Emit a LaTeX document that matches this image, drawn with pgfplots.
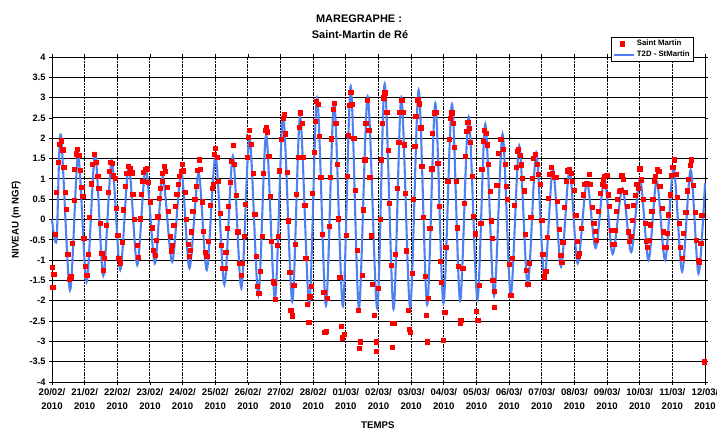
\documentclass[border=0pt]{standalone}
\usepackage{pgfplots}
\pgfplotsset{compat=1.18}
\usepackage{pgfplotstable}
\usepackage{fontspec}
\setmainfont{Liberation Sans}

\definecolor{modelblue}{RGB}{78,128,240}
\definecolor{obsred}{RGB}{255,0,0}

% legend sample for the model curve: a 20bp line
\pgfplotsset{modelleg/.style={legend image code/.code={\draw[##1] (0bp,0bp) -- (20bp,0bp);}}}

% T2D model: successive high and low waters (days since 20/02/2010 00:00, m NGF)
\pgfplotstableread{
t v
0.00 0.00
0.14 -0.50
0.27 2.09
0.55 -1.74
0.80 1.56
1.06 -1.53
1.32 1.60
1.57 -1.38
1.83 1.44
2.09 -1.24
2.35 1.30
2.61 -1.12
2.87 1.26
3.15 -1.08
3.39 1.05
3.68 -1.04
3.96 1.19
4.21 -1.20
4.49 1.14
4.74 -1.24
5.01 1.56
5.28 -1.60
5.54 1.56
5.80 -1.69
6.05 2.02
6.32 -1.86
6.56 2.09
6.83 -1.96
7.08 2.55
7.36 -2.02
7.60 2.52
7.88 -2.08
8.12 3.00
8.39 -2.12
8.64 2.87
8.91 -2.13
9.15 3.28
9.40 -2.18
9.67 3.03
9.96 -2.19
10.19 3.34
10.46 -2.20
10.70 3.00
10.97 -2.17
11.23 3.19
11.49 -2.10
11.74 2.86
11.99 -2.06
12.25 2.84
12.50 -2.00
12.76 2.53
13.03 -1.96
13.27 2.35
13.54 -1.87
13.80 2.10
14.05 -1.86
14.31 1.81
14.57 -1.61
14.83 1.64
15.08 -1.45
15.34 1.25
15.59 -1.16
15.85 1.22
16.10 -1.08
16.38 0.92
16.65 -0.70
16.92 1.01
17.17 -0.85
17.47 0.77
17.74 -0.80
18.01 1.00
18.27 -1.00
18.52 0.96
18.78 -1.00
19.04 1.26
19.30 -1.28
19.56 1.22
19.80 -1.33
20.00 0.90
}\modele

% Tide gauge readings, Saint-Martin de Re
\pgfplotstableread{
t v
0.00 -1.17
0.02 -1.66
0.05 -1.34
0.10 -0.36
0.14 0.67
0.18 1.42
0.22 1.86
0.27 1.94
0.33 1.72
0.36 1.28
0.40 0.67
0.44 0.26
0.48 -0.86
0.53 -1.47
0.57 -1.41
0.61 -0.58
0.68 0.47
0.69 1.23
0.74 1.62
0.78 1.73
0.82 1.58
0.86 1.21
0.91 0.79
0.94 0.58
0.97 -0.46
1.02 -1.14
1.06 -1.37
1.11 -0.86
1.15 0.06
1.20 0.88
1.23 1.37
1.29 1.60
1.35 1.42
1.40 1.06
1.43 0.77
1.47 -0.09
1.52 -0.83
1.57 -1.24
1.60 -0.95
1.66 -0.15
1.71 0.67
1.74 1.19
1.79 1.42
1.84 1.39
1.88 1.09
1.93 1.02
1.96 0.28
2.01 -0.38
2.04 -0.95
2.10 -1.07
2.15 -0.56
2.19 0.24
2.25 0.81
2.29 1.13
2.34 1.31
2.39 1.25
2.45 1.15
2.47 0.63
2.52 0.01
2.60 -0.64
2.63 -0.93
2.70 0.02
2.73 0.63
2.78 0.94
2.80 1.17
2.86 1.23
2.91 1.25
2.94 0.92
3.00 0.44
3.07 -0.20
3.11 -0.75
3.15 -0.87
3.19 -0.50
3.24 0.07
3.29 0.53
3.32 0.77
3.37 0.95
3.38 1.14
3.44 1.31
3.46 1.19
3.52 0.80
3.57 0.20
3.62 -0.42
3.65 -0.77
3.68 -0.64
3.73 -0.15
3.77 0.32
3.82 0.63
3.87 0.86
3.90 1.06
3.96 1.19
3.99 1.37
4.03 1.20
4.08 0.67
4.11 0.00
4.16 -0.61
4.19 -0.91
4.23 -0.75
4.26 -0.30
4.31 0.20
4.37 0.49
4.42 0.81
4.45 1.21
4.50 1.47
4.54 1.23
4.60 0.44
4.64 -0.28
4.69 -0.81
4.74 -0.91
4.79 -0.54
4.85 0.36
4.90 0.77
4.93 0.87
4.96 1.61
5.01 1.76
5.05 1.53
5.10 0.94
5.15 0.16
5.18 -0.64
5.23 -1.19
5.29 -1.20
5.32 -0.81
5.37 -0.21
5.39 0.32
5.46 0.92
5.49 1.43
5.54 1.83
5.59 1.37
5.64 0.59
5.69 -0.30
5.75 -1.08
5.80 -1.37
5.83 -1.08
5.88 -0.42
5.92 0.38
5.98 1.53
6.02 2.02
6.05 2.19
6.10 1.86
6.15 1.14
6.21 0.13
6.26 -0.90
6.29 -1.65
6.33 -1.82
6.38 -1.28
6.43 -0.42
6.48 1.14
6.53 2.19
6.56 2.26
6.60 2.16
6.64 1.56
6.69 0.57
6.72 -0.54
6.77 -1.53
6.80 -1.57
6.84 -1.97
6.89 -0.63
6.94 -0.42
6.97 1.20
7.02 1.97
7.07 2.50
7.10 2.58
7.15 2.11
7.20 1.17
7.23 -0.03
7.28 -1.30
7.31 -2.23
7.36 -2.37
7.40 -1.61
7.46 -0.61
7.48 0.63
7.53 1.53
7.56 2.27
7.61 2.63
7.66 2.38
7.69 1.53
7.74 0.35
7.77 -0.95
7.82 -2.09
7.86 -2.52
7.89 -1.90
7.94 -1.64
7.98 0.65
8.02 1.65
8.07 2.42
8.10 2.91
8.15 2.83
8.18 2.05
8.23 1.04
8.27 -0.36
8.32 -1.78
8.35 -2.78
8.40 -2.75
8.44 -1.94
8.48 -0.17
8.53 1.04
8.56 1.99
8.61 2.71
8.64 2.87
8.69 2.38
8.73 1.37
8.76 0.02
8.81 -1.43
8.86 -2.62
8.89 -2.91
8.94 -2.83
9.00 -0.38
9.04 1.06
9.07 2.07
9.12 2.81
9.15 3.14
9.20 2.83
9.24 2.01
9.29 0.73
9.34 -0.75
9.37 -2.23
9.41 -3.16
9.45 -3.01
9.50 -1.37
9.53 0.24
9.58 1.47
9.61 2.38
9.65 2.93
9.70 2.19
9.73 1.04
9.77 -0.40
9.81 -1.60
9.86 -2.35
9.93 -3.01
9.94 -3.24
9.99 -1.70
10.04 0.00
10.09 1.47
10.12 2.38
10.16 3.00
10.19 3.12
10.25 2.65
10.29 1.70
10.33 0.40
10.38 -1.12
10.41 -2.56
10.43 -3.14
10.47 -2.56
10.52 -0.86
10.57 0.77
10.62 1.91
10.65 2.65
10.71 2.93
10.74 2.65
10.78 1.84
10.81 0.65
10.86 -0.77
10.91 -2.23
10.94 -2.70
10.98 -2.78
11.03 -1.33
11.06 0.49
11.11 1.80
11.14 2.54
11.20 2.95
11.24 2.85
11.29 2.26
11.32 1.31
11.37 0.05
11.42 -1.40
11.45 -2.35
11.49 -3.01
11.52 -1.94
11.57 -0.21
11.63 1.25
11.65 2.13
11.70 2.63
11.75 2.65
11.81 1.38
11.86 0.32
11.90 -1.02
11.93 -1.55
11.98 -2.97
12.03 -2.29
12.06 -0.69
12.12 0.94
12.16 1.97
12.19 2.50
12.24 2.63
12.29 2.38
12.32 1.78
12.37 0.95
12.41 -0.20
12.44 -1.14
12.49 -2.56
12.52 -2.48
12.58 -1.20
12.62 0.40
12.66 1.56
12.70 2.17
12.73 2.40
12.78 2.24
12.82 1.91
12.86 1.06
12.90 0.09
12.95 -0.35
12.98 -2.26
13.04 -2.48
13.08 -1.61
13.13 -0.09
13.16 1.23
13.21 1.93
13.24 2.19
13.29 2.13
13.33 1.84
13.36 1.37
13.41 0.69
13.44 -0.03
13.47 -0.46
13.50 -1.49
13.54 -1.76
13.55 -2.15
13.62 0.84
13.67 1.64
13.72 1.97
13.77 1.97
13.82 1.74
13.87 1.37
13.90 0.81
13.95 0.49
14.00 -1.10
14.05 -1.86
14.10 -0.95
14.15 0.35
14.21 1.28
14.25 1.68
14.28 1.74
14.33 1.58
14.36 1.35
14.41 1.02
14.46 0.71
14.49 -0.36
14.52 -1.24
14.57 -1.60
14.62 -1.08
14.66 0.05
14.71 1.02
14.74 1.50
14.79 1.61
14.85 1.37
14.90 1.12
14.95 0.87
15.00 -0.01
15.03 -0.86
15.07 -1.41
15.12 -1.27
15.17 -0.44
15.20 0.53
15.23 1.12
15.28 1.28
15.33 1.14
15.37 1.04
15.43 1.04
15.48 0.46
15.53 -0.23
15.58 -0.87
15.61 -1.05
15.64 -0.56
15.69 0.30
15.74 0.95
15.79 1.20
15.84 1.23
15.89 1.14
15.94 0.95
16.00 0.73
16.04 0.10
16.09 -0.54
16.12 -0.91
16.15 -0.83
16.21 -0.21
16.26 0.61
16.30 0.86
16.35 0.90
16.40 0.90
16.45 1.12
16.48 0.87
16.55 0.30
16.59 -0.10
16.63 -0.28
16.67 -0.50
16.74 0.20
16.79 0.65
16.84 0.86
16.87 0.98
16.91 1.06
16.93 0.81
16.99 1.10
17.04 0.61
17.07 0.32
17.12 -0.26
17.17 -0.61
17.23 -0.61
17.25 -0.26
17.28 0.20
17.32 0.49
17.37 0.69
17.42 0.73
17.45 1.09
17.50 1.00
17.56 0.67
17.61 0.32
17.65 -0.30
17.69 -0.54
17.74 -0.42
17.77 -0.01
17.81 0.35
17.86 0.59
17.91 0.86
17.96 0.77
17.99 1.25
18.02 1.25
18.05 0.98
18.10 0.49
18.16 -0.09
18.21 -0.53
18.22 -0.69
18.28 -0.50
18.32 -0.13
18.37 0.21
18.40 0.49
18.45 0.94
18.48 1.06
18.53 1.23
18.58 1.19
18.61 0.81
18.68 0.28
18.72 -0.30
18.75 -0.69
18.80 -0.69
18.83 -0.34
18.88 0.12
18.94 0.61
18.97 1.09
19.01 1.28
19.06 1.47
19.11 1.12
19.16 0.54
19.21 -0.09
19.24 -0.69
19.29 -0.95
19.34 -0.34
19.41 0.18
19.46 0.71
19.49 1.00
19.55 1.33
19.58 1.47
19.65 0.84
19.70 0.18
19.73 -0.50
19.78 -1.00
19.83 -1.04
19.87 -0.58
19.90 0.10
19.97 -3.50
}\mesures

\begin{document}
\begin{tikzpicture}
\begin{axis}[
  at={(52bp,48bp)}, anchor=south west,
  scale only axis, width=653bp, height=325bp,
  xmin=0, xmax=20, ymin=-4, ymax=4,
  clip=false,
  xtick={0,1,...,20},
  xticklabels={{20/02/\\2010},{21/02/\\2010},{22/02/\\2010},{23/02/\\2010},
    {24/02/\\2010},{25/02/\\2010},{26/02/\\2010},{27/02/\\2010},{28/02/\\2010},
    {01/03/\\2010},{02/03/\\2010},{03/03/\\2010},{04/03/\\2010},{05/03/\\2010},
    {06/03/\\2010},{07/03/\\2010},{08/03/\\2010},{09/03/\\2010},{10/03/\\2010},
    {11/03/\\2010},{12/03/\\2010}},
  ytick={-4,-3.5,-3,-2.5,-2,-1.5,-1,-0.5,0,0.5,1,1.5,2,2.5,3,3.5,4},
  yticklabels={-4,-3.5,-3,-2.5,-2,-1.5,-1,-0.5,0,0.5,1,1.5,2,2.5,3,3.5,4},
  tick align=outside, major tick length=3bp,
  tick style={black, line width=0.8bp},
  xmajorgrids, ymajorgrids,
  major x grid style={black, line width=1bp, dash pattern=on 2bp off 0.8bp},
  major y grid style={black, line width=1bp},
  axis line style={black, line width=1bp},
  xticklabel style={align=center, font=\fontsize{9.6}{14}\selectfont\bfseries},
  yticklabel style={font=\fontsize{9.3}{11}\selectfont\bfseries},
  xlabel={TEMPS}, ylabel={NIVEAU (m NGF)},
  label style={font=\fontsize{9.7}{11}\selectfont\bfseries},
  ylabel style={at={(axis description cs:-0.055,0.5)}, anchor=center},
  xlabel style={at={(axis description cs:0.499,-0.132)}, anchor=center},
  reverse legend,
  legend style={at={(0.983,1.062)}, anchor=north east, draw=black,
    line width=0.6bp, fill=white, font=\fontsize{7.8}{9}\selectfont\bfseries,
    cells={anchor=west}, inner xsep=2bp, inner ysep=1bp, row sep=0bp},
]
\addplot[modelblue, line width=2.1bp, smooth, modelleg]
  table[x=t, y=v]{\modele};
\addlegendentry{T2D - StMartin}
\addplot[only marks, mark=square*, mark size=2.1bp,
  mark options={draw=obsred, fill=obsred}]
  table[x=t, y=v]{\mesures};
\addlegendentry{Saint Martin}
\end{axis}
\node[font=\fontsize{11}{13}\selectfont\bfseries, anchor=base] at (359bp,407bp) {MAREGRAPHE :};
\node[font=\fontsize{11}{13}\selectfont\bfseries, anchor=base] at (360bp,391bp) {Saint-Martin de Ré};
\pgfresetboundingbox
\path[use as bounding box] (0,0) rectangle (717bp,430bp);
\end{tikzpicture}
\end{document}
